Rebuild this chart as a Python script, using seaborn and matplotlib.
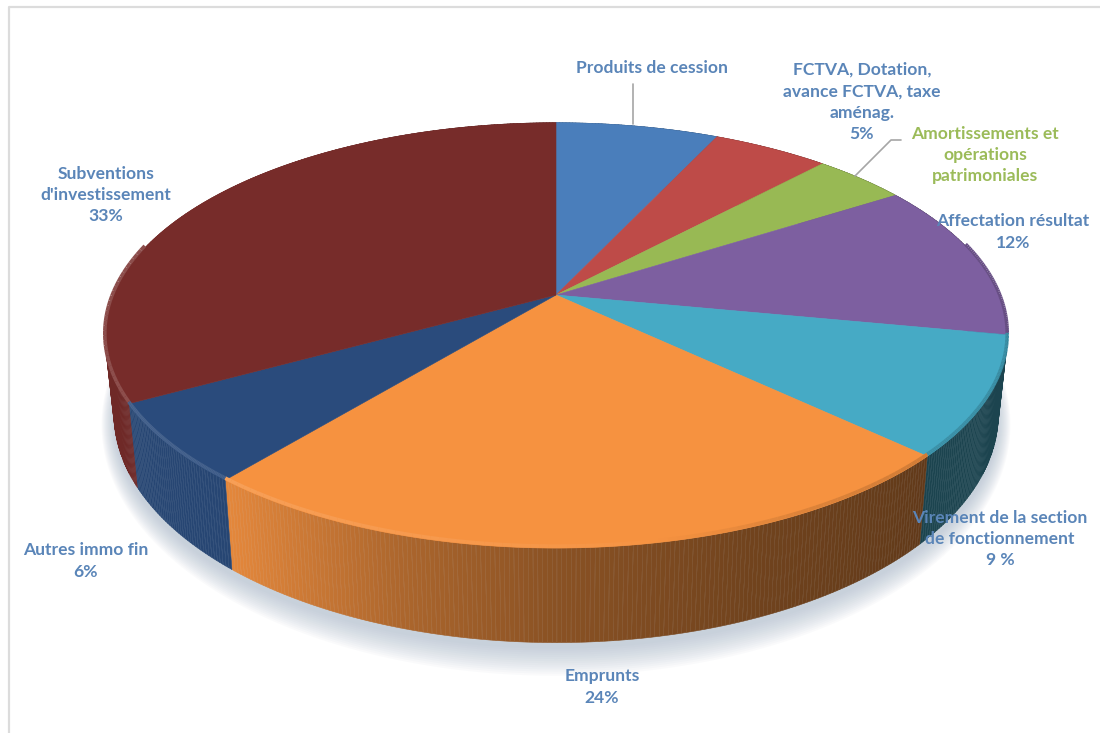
import numpy as np
import matplotlib
matplotlib.use("Agg")
import matplotlib.pyplot as plt
from matplotlib.collections import LineCollection, PolyCollection
import seaborn as sns

# Budget share of each investment revenue source, in percent
categories = ["Produits de cession", "FCTVA, Dotation, avance FCTVA, taxe aménag.",
              "Amortissements et opérations patrimoniales", "Affectation résultat",
              "Virement de la section de fonctionnement", "Emprunts",
              "Autres immo fin", "Subventions d'investissement"]
values = [7, 5, 4, 12, 9, 24, 6, 33]
label_texts = ["Produits de cession",
               "FCTVA, Dotation,\navance FCTVA, taxe\naménag.\n5%",
               "Amortissements et\nopérations\npatrimoniales",
               "Affectation résultat\n12%",
               "Virement de la section\nde fonctionnement\n9 %",
               "Emprunts\n24%",
               "Autres immo fin\n6%",
               "Subventions\nd'investissement\n33%"]
slice_colors = ["#4a7ebb", "#be4b48", "#98b954", "#7d5fa0",
                "#46aac5", "#f69240", "#2a4b7c", "#772c2a"]

# Layout of the perspective disc, in figure pixels
APEX_X, APEX_Y = 556, 295
RX, RY, TILT = 443, 205, 0.19
FLOOR_Y, FLOOR_RX, FLOOR_RY = 371, 434, 220
LABEL_BLUE, LABEL_GREEN = "#5a85b8", "#9bbb59"
label_anchors = [(652, 68), (862, 102), (985, 155), (1013, 232),
                 (1000, 539), (602, 687), (86, 561), (106, 195)]
label_tints = [LABEL_BLUE, LABEL_BLUE, LABEL_GREEN, LABEL_BLUE,
               LABEL_BLUE, LABEL_BLUE, LABEL_BLUE, LABEL_BLUE]

sns.set_theme(style="white")
plt.rcParams["font.family"] = ["Lato", "DejaVu Sans"]
palette = sns.color_palette(slice_colors)


def rim(theta, floor=False):
    """Project angles (clockwise from 12 o'clock) onto the top or bottom rim."""
    u, v = np.sin(theta), -np.cos(theta)
    w = 1 - TILT * v
    if floor:
        return APEX_X + FLOOR_RX * u / w, FLOOR_Y + FLOOR_RY * v / w
    return APEX_X + RX * u / w, APEX_Y + RY * v / w


fig = plt.figure(figsize=(11, 7.33), dpi=100, facecolor="white")
ax = fig.add_axes([0, 0, 1, 1])
ax.set_xlim(0, 1100)
ax.set_ylim(733, 0)
ax.axis("off")

# Thin frame of the pasted chart area
ax.plot([9, 9, 1100], [733, 7, 7], color="#dcdcdc", lw=1.6, zorder=0)

edges = np.cumsum([0] + values) / sum(values) * 2 * np.pi

# Soft drop shadow under the disc
full = np.linspace(0, 2 * np.pi, 361)
for grow in np.linspace(1, 0, 14):
    sx, sy = rim(full, floor=True)
    sx = APEX_X + (sx - APEX_X) * (1 + 0.028 * grow)
    sy = FLOOR_Y + 6 + (sy - FLOOR_Y) * (1 + 0.10 * grow)
    ax.fill(sx, sy, color="#9fb0c4", alpha=0.05, lw=0, zorder=1)

# Side wall: narrow strips, shaded from the lit left to the dark right
shade_x = [100, 224, 400, 556, 750, 920, 1010]
shade_f = [0.93, 0.93, 0.70, 0.56, 0.46, 0.40, 0.40]
strips, strip_colors = [], []
for start, stop, color in zip(edges[:-1], edges[1:], palette):
    steps = max(int((stop - start) / np.radians(0.5)), 2)
    ticks = np.linspace(start, stop, steps + 1)
    tx, ty = rim(ticks)
    bx, by = rim(ticks, floor=True)
    for i in range(steps):
        strips.append([(tx[i], ty[i]), (tx[i + 1] + 0.3, ty[i + 1]),
                       (bx[i + 1] + 0.3, by[i + 1]), (bx[i], by[i])])
        f = np.interp(0.5 * (tx[i] + tx[i + 1]), shade_x, shade_f)
        strip_colors.append(tuple(np.array(color) * f))
ax.add_collection(PolyCollection(strips, facecolors=strip_colors,
                                 edgecolors=strip_colors, linewidths=0.4, zorder=2))

# Top face of the disc
for start, stop, color in zip(edges[:-1], edges[1:], palette):
    ticks = np.linspace(start, stop, 120)
    tx, ty = rim(ticks)
    ax.fill(np.r_[APEX_X, tx], np.r_[APEX_Y, ty], facecolor=color,
            edgecolor=color, lw=0.4, zorder=3)

# Bevel along the front rim: light on the left, fading into shadow on the right
segments, bevel_colors = [], []
for start, stop, color in zip(edges[:-1], edges[1:], palette):
    ticks = np.linspace(start, stop, 90)
    tx, ty = rim(ticks)
    ty = ty - 2
    for i in range(len(ticks) - 1):
        mid = 0.5 * (ticks[i] + ticks[i + 1])
        if np.cos(mid) > 0.25:
            continue
        gain = np.interp(tx[i], [130, 300, 620, 800, 1010], [0.16, 0.10, 0.03, -0.10, -0.18])
        base = np.array(color)
        tone = base + (1 - base) * gain if gain > 0 else base * (1 + gain)
        segments.append([(tx[i], ty[i]), (tx[i + 1], ty[i + 1])])
        bevel_colors.append(tuple(tone))
ax.add_collection(LineCollection(segments, colors=bevel_colors, linewidths=2.6, zorder=4))

# Leader lines
ax.plot([633, 633], [84, 124], color="#a6a6a6", lw=1.2, zorder=5)
ax.plot([855, 891, 901], [176, 140, 140], color="#a6a6a6", lw=1.2, zorder=5)

# Data labels
for text, (x, y), tint in zip(label_texts, label_anchors, label_tints):
    ax.text(x, y, text, ha="center", va="center", color=tint, fontsize=12.6,
            fontweight="bold", linespacing=1.42, zorder=6)

fig.savefig("out.png", dpi=100, facecolor="white")
